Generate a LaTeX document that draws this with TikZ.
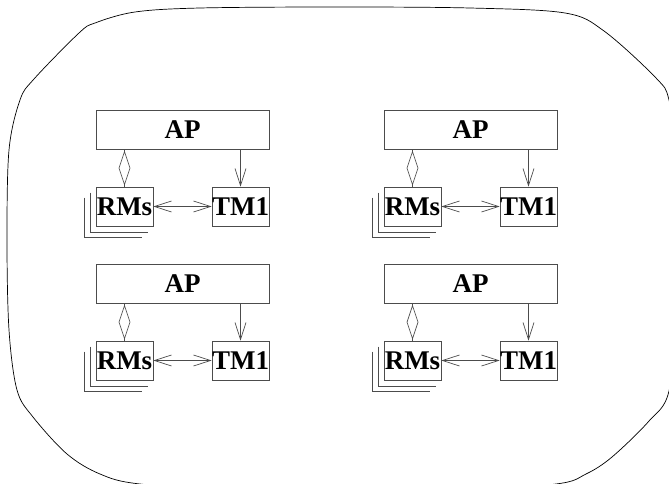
\documentclass[tikz,border=0pt]{standalone}
\usepackage{fontspec}
\setmainfont{Liberation Serif}
\usepackage{tikz}
\usetikzlibrary{positioning, arrows.meta, calc}
\tikzset{
x=1pt, y=-1pt, % one unit is one pixel of the picture, y runs down
>={Straight Barb[length=17pt, width=11pt]}, % open stick arrow heads
node distance=76.5pt, % from an AP box down to the small boxes
every node/.style={font=\fontsize{27}{32}\selectfont\bfseries},
apbox/.style={draw=black!70, line width=0.7pt, minimum width=173pt, minimum height=38.5pt, inner sep=0pt}, % the wide AP box
smallbox/.style={draw=black!70, line width=0.7pt, fill=white, minimum width=57pt, minimum height=39pt, inner sep=0pt}, % RMs and TM1
link/.style={draw=black!70, line width=0.7pt}, % connectors
stack/.style={draw=black!70, line width=0.7pt}, % the copies behind RMs
}
\begin{document}
\begin{tikzpicture}
                \useasboundingbox (0,0) rectangle (669,484);
                \clip (0,0) rectangle (669,484);
                % outer region
                \draw[line width=0.7pt] plot[smooth cycle, tension=0.55] coordinates {
                    (335,7) (470,8) (565,13) (604,31) (656,78) (669,100) (677,160) (679,300)
                    (669,391) (649,421) (612,457) (586,474) (556,484) (450,491) (250,491)
                    (140,484) (100,474) (67,454) (33,417) (17,390) (9,330) (7,240)
                    (9,150) (20,100) (34,79) (79,33) (95,23) (135,12) (200,8)};
                % four groups
                \node[apbox] (a1) at (182.5,130) {AP};
                \node[apbox, right of=a1, node distance=288pt] (a2) {AP};
                \node[apbox, below of=a1, node distance=154pt] (a3) {AP};
                \node[apbox, below of=a2, node distance=154pt] (a4) {AP};
                \foreach \g in {1,2,3,4} {
                    \node[smallbox, below of=a\g, xshift=-58pt] (r\g) {RMs};
                    \node[smallbox, below of=a\g, xshift=58pt] (t\g) {TM1};
                    \draw[stack] ([shift={(-5pt,-6pt)}]r\g.north west) |- ([shift={(-5pt,-6pt)}]r\g.south east);
                    \draw[stack] ([shift={(-11pt,-11pt)}]r\g.north west) |- ([shift={(-11pt,-11pt)}]r\g.south east);
                    \draw[link] (r\g.north |- a\g.south) -- (r\g.north);
                    % open diamond on the AP--RMs line
                    \draw[link, fill=white] ($(r\g.north)!0.5!(r\g.north |- a\g.south)$) ++(0,-16.5)
                        -- ++(5.5,16.5) -- ++(-5.5,16.5) -- ++(-5.5,-16.5) -- cycle;
                    \draw[link, ->] (t\g.north |- a\g.south) -- (t\g.north);
                    \draw[link, <->] (r\g) -- (t\g);
                }
            \end{tikzpicture}
\end{document}
